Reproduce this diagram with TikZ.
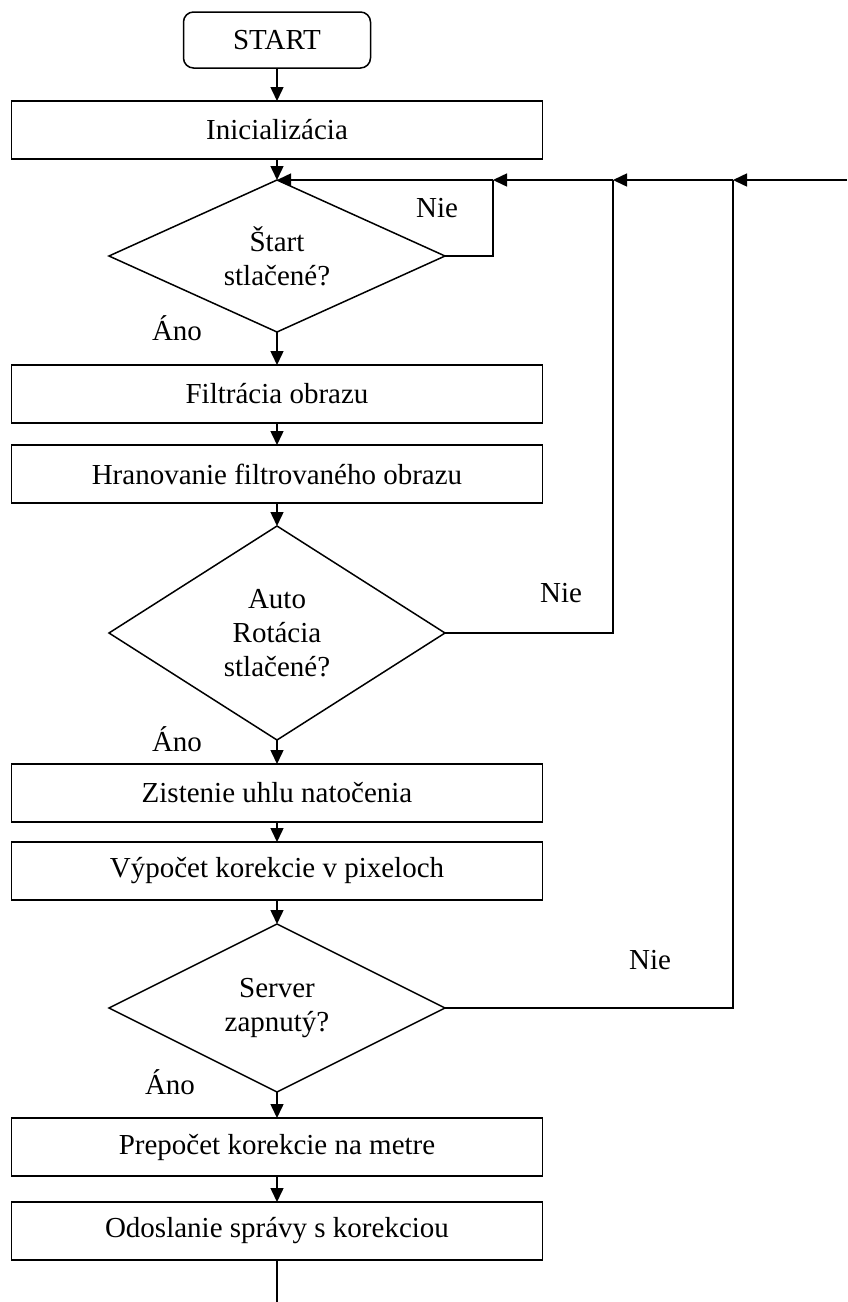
\documentclass[tikz,border=0pt]{standalone}
\usepackage{fontspec}
\setmainfont{Liberation Serif}
\usetikzlibrary{shapes.geometric,arrows.meta}

\tikzset{
  block/.style={rectangle, draw, line width=1.5pt, minimum width=531pt,
                minimum height=58pt, inner sep=0pt, outer sep=0pt},
  terminal/.style={rectangle, rounded corners=10pt, draw, line width=1.5pt,
                minimum width=187pt, minimum height=56pt, outer sep=0pt},
  decision/.style={diamond, draw, line width=1.5pt, inner sep=0pt,
                outer sep=0pt, align=center, minimum width=336pt},
  flow/.style={line width=1.5pt, -{Triangle[length=14pt,width=13pt]}},
  wire/.style={line width=1.5pt},
  answer/.style={inner sep=0pt},
}

\begin{document}
\begin{tikzpicture}[x=1pt,y=-1pt,font=\fontsize{29}{34}\selectfont]

\useasboundingbox (0,0) rectangle (847,1302);

\def\midx{277}

% hlavna vetva
\node (start) [terminal] at (\midx,40) {START};
\node (init)  [block] at (\midx,130) {Inicializácia};
\node (d1)    [decision, minimum height=152pt, aspect=2.2] at (\midx,256) {Štart\\stlačené?};
\node (filt)  [block] at (\midx,394) {Filtrácia obrazu};
\node (hran)  [block] at (\midx,474) {Hranovanie filtrovaného obrazu};
\node (d2)    [decision, minimum height=214pt, aspect=1.57] at (\midx,633) {Auto\\Rotácia\\stlačené?};
\node (uhol)  [block] at (\midx,793) {Zistenie uhlu natočenia};
\node (pix)   [block] at (\midx,871) {Výpočet korekcie v pixeloch};
\node (d3)    [decision, minimum height=168pt, aspect=2] at (\midx,1008) {Server\\zapnutý?};
\node (metre) [block] at (\midx,1147) {Prepočet korekcie na metre};
\node (send)  [block] at (\midx,1231) {Odoslanie správy s korekciou};

% navratova linka
\coordinate (j1) at (493,180);
\coordinate (j2) at (613,180);
\coordinate (j3) at (733,180);
\coordinate (entry) at (847,180);
\coordinate (exit) at (\midx,1302);

\node (nie1) [answer] at (437,208) {Nie};
\node (nie2) [answer] at (561,593) {Nie};
\node (nie3) [answer] at (650,960) {Nie};
\node (ano1) [answer] at (177,328) {Áno};
\node (ano2) [answer] at (177,739) {Áno};
\node (ano3) [answer] at (170,1082) {Áno};

\draw[flow] (start) -- (init);
\draw[flow] (init) -- (d1);
\draw[flow] (d1) -- (filt);
\draw[flow] (filt) -- (hran);
\draw[flow] (hran) -- (d2);
\draw[flow] (d2) -- (uhol);
\draw[flow] (uhol) -- (pix);
\draw[flow] (pix) -- (d3);
\draw[flow] (d3) -- (metre);
\draw[flow] (metre) -- (send);
\draw[wire] (send) -- (exit);

\draw[wire] (d1.east) -| (j1);
\draw[wire] (d2.east) -| (j2);
\draw[wire] (d3.east) -| (j3);

\draw[flow] (entry) -- (j3);
\draw[flow] (j3) -- (j2);
\draw[flow] (j2) -- (j1);
\draw[flow] (j1) -- (d1.north);
\end{tikzpicture}
\end{document}
